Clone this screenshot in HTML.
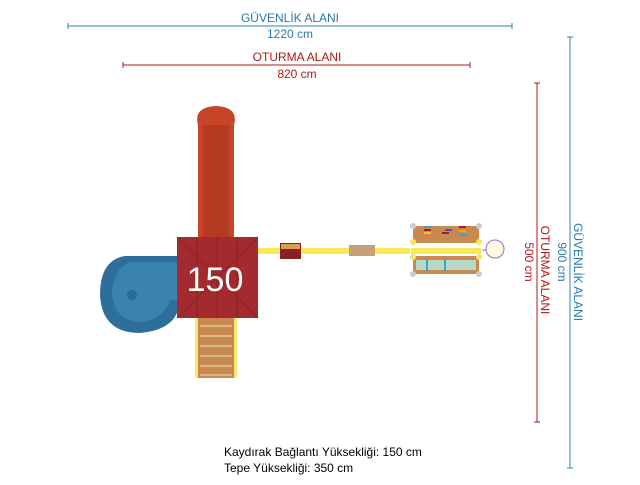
<!DOCTYPE html>
<html><head><meta charset="utf-8"><style>
body{margin:0;background:#fff;width:640px;height:480px;overflow:hidden;font-family:"Liberation Sans",sans-serif}
</style></head><body>
<svg width="640" height="480" xmlns="http://www.w3.org/2000/svg" font-family="Liberation Sans, sans-serif">
<!-- top dims -->
<line x1="68" y1="26" x2="512" y2="26" stroke="#2e86b0" stroke-width="1"/>
<line x1="68" y1="23" x2="68" y2="29" stroke="#2e86b0"/><line x1="512" y1="23" x2="512" y2="29" stroke="#2e86b0"/>
<text x="290" y="22" font-size="12" fill="#2a7aa8" text-anchor="middle">GÜVENLİK  ALANI</text>
<text x="290" y="38" font-size="12" fill="#2a7aa8" text-anchor="middle">1220 cm</text>
<line x1="123" y1="65" x2="470" y2="65" stroke="#b01818"/>
<line x1="123" y1="62" x2="123" y2="68" stroke="#b01818"/><line x1="470" y1="62" x2="470" y2="68" stroke="#b01818"/>
<text x="297" y="61" font-size="12" fill="#b01818" text-anchor="middle">OTURMA  ALANI</text>
<text x="297" y="78" font-size="12" fill="#b01818" text-anchor="middle">820 cm</text>
<!-- right dims -->
<line x1="570" y1="37" x2="570" y2="468" stroke="#2e86b0"/>
<line x1="567" y1="37" x2="573" y2="37" stroke="#2e86b0"/><line x1="567" y1="468" x2="573" y2="468" stroke="#2e86b0"/>
<line x1="537" y1="83" x2="537" y2="422" stroke="#b01818"/>
<line x1="534" y1="83" x2="540" y2="83" stroke="#b01818"/><line x1="534" y1="422" x2="540" y2="422" stroke="#b01818"/>
<text transform="translate(574,272) rotate(90)" font-size="12" fill="#2a7aa8" text-anchor="middle">GÜVENLİK ALANI</text>
<text transform="translate(558,262) rotate(90)" font-size="12" fill="#2a7aa8" text-anchor="middle">900 cm</text>
<text transform="translate(541,270) rotate(90)" font-size="12" fill="#b01818" text-anchor="middle">OTURMA ALANI</text>
<text transform="translate(525,262) rotate(90)" font-size="12" fill="#b01818" text-anchor="middle">500 cm</text>
<!-- slide -->
<path d="M198 237 L198 125 Q193 107 216 106 Q239 107 234 125 L234 237 Z" fill="#c8452a"/>
<rect x="203" y="125" width="26" height="112" fill="#b53a22"/>
<!-- spiral -->
<path d="M178 256 L125 256 Q100 260 100 295 Q102 333 140 333 Q172 330 178 310 Z" fill="#2e6e9a"/>
<path d="M178 262 L130 262 Q112 270 112 295 Q115 322 142 322 Q165 318 170 300 L178 300 Z" fill="#3a82b0"/>
<circle cx="132" cy="295" r="5" fill="#2a6a96"/>
<!-- ladder -->
<rect x="195" y="318" width="42" height="60" fill="#f5e870"/>
<rect x="198" y="318" width="36" height="60" fill="#c98a50"/>
<g stroke="#f0e0c0" stroke-width="1"><line x1="200" y1="326" x2="232" y2="326"/><line x1="200" y1="336" x2="232" y2="336"/><line x1="200" y1="346" x2="232" y2="346"/><line x1="200" y1="356" x2="232" y2="356"/><line x1="200" y1="366" x2="232" y2="366"/><line x1="200" y1="375" x2="232" y2="375"/></g>
<!-- deck -->
<rect x="177" y="237" width="81" height="81" fill="#a32a2e"/>
<g stroke="#8a2226" stroke-width="1" fill="none"><line x1="177" y1="237" x2="258" y2="318"/><line x1="258" y1="237" x2="177" y2="318"/><line x1="197" y1="237" x2="197" y2="318"/><line x1="217" y1="237" x2="217" y2="318"/><line x1="237" y1="237" x2="237" y2="318"/></g>
<text x="215" y="291" font-size="34" fill="#fff" text-anchor="middle">150</text>
<!-- beam -->
<rect x="258" y="248" width="152" height="6" fill="#f7e85a"/>
<rect x="280" y="243" width="21" height="16" fill="#8a2020"/><rect x="281" y="244" width="19" height="5" fill="#d8a050"/>
<rect x="349" y="245" width="26" height="11" fill="#c8a078"/>
<!-- right unit -->
<rect x="410" y="223" width="72" height="54" fill="#fff"/>
<rect x="413" y="226" width="66" height="17" fill="#c98a50"/>
<rect x="413" y="256" width="66" height="18" fill="#c98a50"/>
<rect x="416" y="260" width="60" height="10" fill="#b8d8c8"/>
<rect x="426" y="259" width="2" height="12" fill="#3aa0d0"/><rect x="444" y="259" width="2" height="12" fill="#3aa0d0"/>
<rect x="411" y="248" width="70" height="6" fill="#f7e85a"/>
<g><rect x="424" y="226" width="7" height="2" fill="#3aa0d0"/><rect x="424" y="229" width="7" height="2" fill="#a02020"/><rect x="424" y="232" width="7" height="2" fill="#f0c020"/><rect x="445" y="229" width="7" height="2" fill="#3060c0"/><rect x="442" y="232" width="7" height="2" fill="#a02020"/><rect x="459" y="226" width="7" height="2" fill="#a02020"/><rect x="459" y="230" width="7" height="2" fill="#f0a020"/><rect x="460" y="234" width="7" height="2" fill="#3aa0d0"/></g>
<g fill="#ccc"><circle cx="413" cy="226" r="3"/><circle cx="479" cy="226" r="3"/><circle cx="413" cy="274" r="3"/><circle cx="479" cy="274" r="3"/></g>
<g fill="#f5e860"><circle cx="413" cy="242" r="3"/><circle cx="479" cy="242" r="3"/><circle cx="413" cy="257" r="3"/><circle cx="479" cy="257" r="3"/></g>
<line x1="482" y1="250" x2="486" y2="250" stroke="#9070c0"/>
<circle cx="495" cy="249" r="9" fill="#fffbe0" stroke="#9070c0" stroke-width="1"/>
<!-- bottom text -->
<text x="224" y="456" font-size="12" fill="#000">Kaydırak Bağlantı Yüksekliği: 150 cm</text>
<text x="224" y="472" font-size="12" fill="#000">Tepe Yüksekliği: 350 cm</text>
</svg>
</body></html>
